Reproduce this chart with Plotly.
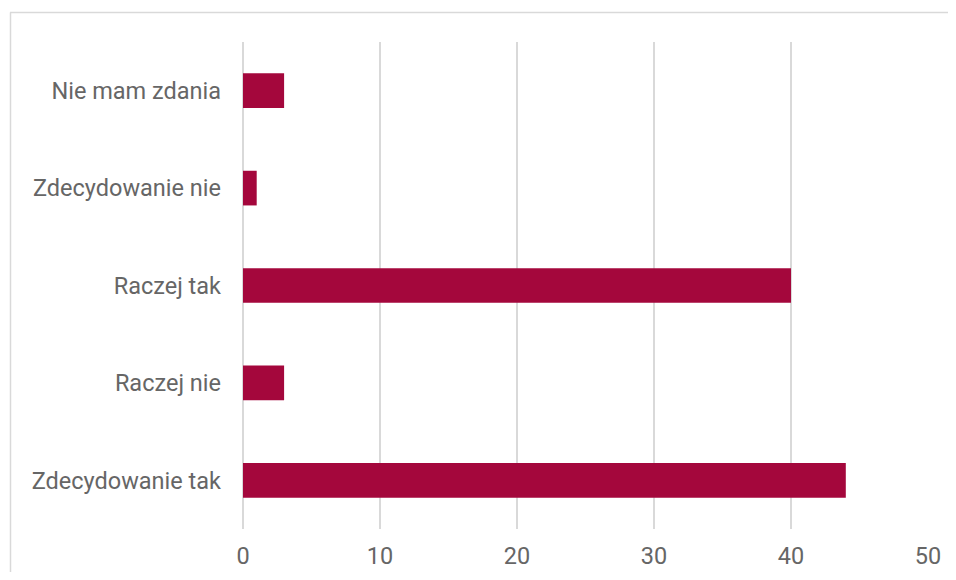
import plotly.graph_objects as go

categories = ["Zdecydowanie tak", "Raczej nie", "Raczej tak", "Zdecydowanie nie", "Nie mam zdania"]
values = [44, 3, 40, 1, 3]
x_ticks = [0, 10, 20, 30, 40, 50]

# page body has an 8px margin; figure sized to fit the 956x580 window
W, H = 940, 564
L, R, T, B = 235, 20, 34, 43.3
pw = W - L - R
ph = H - T - B

fig = go.Figure(go.Bar(
    x=values, y=categories, orientation="h",
    marker=dict(color="#a4073c", line=dict(width=0)),
    width=0.356,
))

def px_to_paper_x(px):
    return (px - L) / pw

def px_to_paper_y(py):
    return (H - B - py) / ph

border = dict(color="#d9d9d9", width=1.5)
fig.add_shape(type="line", xref="paper", yref="paper",
              x0=px_to_paper_x(2), x1=px_to_paper_x(980),
              y0=px_to_paper_y(4.5), y1=px_to_paper_y(4.5), line=border)
fig.add_shape(type="line", xref="paper", yref="paper",
              x0=px_to_paper_x(2.5), x1=px_to_paper_x(2.5),
              y0=px_to_paper_y(4.5), y1=px_to_paper_y(620), line=border)

fig.update_layout(
    width=W, height=H, autosize=False,
    margin=dict(l=L, r=R, t=T, b=B, pad=0, autoexpand=False),
    paper_bgcolor="white", plot_bgcolor="white",
    font=dict(family="Roboto, Arial, sans-serif", size=23.5, color="#666666"),
    showlegend=False,
    xaxis=dict(range=[0, 50], tickvals=x_ticks, showgrid=True, gridcolor="#d9d9d9",
               gridwidth=1.5, zeroline=True, zerolinecolor="#d9d9d9", zerolinewidth=1.5,
               showline=False, ticks="", ticklabelstandoff=10, fixedrange=True,
               automargin=False),
    yaxis=dict(categoryorder="array", categoryarray=categories, showgrid=False,
               showline=False, ticks="", ticklabelstandoff=21, fixedrange=True,
               automargin=False),
)

fig.write_html("out.html")
